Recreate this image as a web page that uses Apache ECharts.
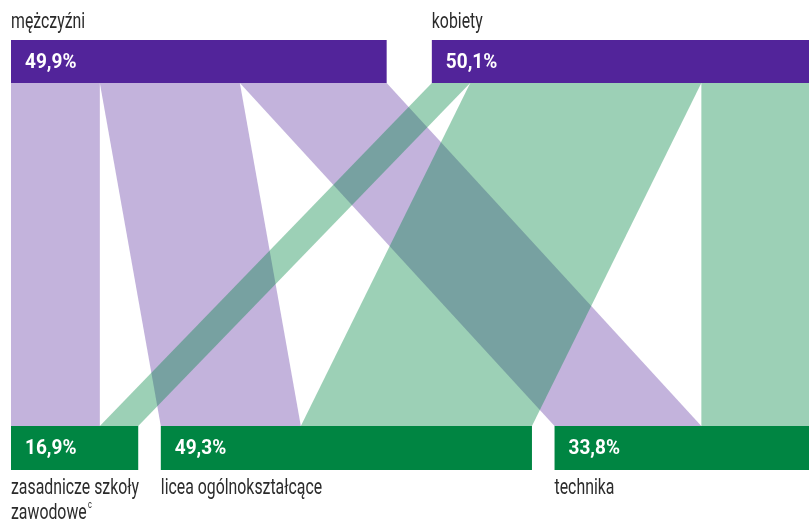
<!DOCTYPE html>
<html>
<head>
<meta charset="utf-8">
<script src="https://cdn.jsdelivr.net/npm/echarts@6/dist/echarts.min.js"></script>
<style>
  html, body { margin: 0; padding: 0; background: #fff; }
  #chart { width: 809px; height: 526px; }
</style>
</head>
<body>
<div id="chart"></div>
<script>
// structure of students: sex (top) -> school type (bottom), % of all students
var sexes = ['mężczyźni', 'kobiety'];
var sexShares = [49.9, 50.1];
var schools = ['zasadnicze szkoły\nzawodowe{sup|c}', 'licea ogólnokształcące', 'technika'];
var schoolShares = [16.9, 49.3, 33.8];
// flows [zasadnicze, licea, technika]
var menFlows = [11.8, 18.6, 19.5];
var womenFlows = [5.1, 30.7, 14.3];

var topGap = 6;
var bottomGap = 3;
var barH = 43;
var font = 'Roboto, sans-serif';
var narrow = 0.72; // condensed look of the original typeface
var sexColors = ['#52249a', '#52249a'];
var flowColors = ['rgba(82,36,154,0.35)', 'rgba(0,133,66,0.39)'];
var schoolColor = '#008542';
var textColor = '#2b2b2b';

function starts(shares, gap) {
  var s = [], acc = 0;
  shares.forEach(function (v, i) {
    s.push(acc + i * gap);
    acc += v;
  });
  return s;
}
var topStart = starts(sexShares, topGap);
var botStart = starts(schoolShares, bottomGap);

// link positions along the top and bottom bars
var flows = [menFlows, womenFlows];
var links = [];
var topOff = [0, 0];
var botOff = [0, 0, 0];
flows.forEach(function (row, s) {
  row.forEach(function (v, t) {
    links.push([s, t, v]);
  });
});
var linkPos = [];
// top: stacked by school inside each sex; bottom: stacked by sex inside each school
links.forEach(function (l) {
  linkPos.push({ top: topStart[l[0]] + topOff[l[0]] });
  topOff[l[0]] += l[2];
});
var byTarget = links.map(function (l, i) { return i; }).sort(function (a, b) {
  return links[a][1] - links[b][1] || links[a][0] - links[b][0];
});
byTarget.forEach(function (i) {
  var l = links[i];
  linkPos[i].bot = botStart[l[1]] + botOff[l[1]];
  botOff[l[1]] += l[2];
});

var nodes = [];
sexShares.forEach(function (v, i) { nodes.push([0, i, v]); });
schoolShares.forEach(function (v, i) { nodes.push([1, i, v]); });

function pct(v) {
  return v.toFixed(1).replace('.', ',') + '%';
}

var chart = echarts.init(document.getElementById('chart'));
chart.setOption({
  animation: false,
  grid: { left: 11, right: 0, top: 83, bottom: 100 },
  xAxis: { type: 'value', min: 0, max: 100 + 2 * bottomGap, show: false },
  yAxis: { type: 'value', min: 0, max: 1, inverse: true, show: false },
  series: [{
    type: 'custom',
    coordinateSystem: 'cartesian2d',
    silent: true,
    data: links,
    renderItem: function (params, api) {
      var i = params.dataIndex;
      var v = api.value(2);
      var p = linkPos[i];
      var pts = [
        api.coord([p.top, 0]),
        api.coord([p.top + v, 0]),
        api.coord([p.bot + v, 1]),
        api.coord([p.bot, 1])
      ];
      return {
        type: 'polygon',
        shape: { points: pts },
        style: { fill: flowColors[api.value(0)] }
      };
    }
  }, {
    type: 'custom',
    coordinateSystem: 'cartesian2d',
    silent: true,
    data: nodes,
    renderItem: function (params, api) {
      var level = api.value(0);
      var idx = api.value(1);
      var v = api.value(2);
      var x0 = level === 0 ? topStart[idx] : botStart[idx];
      var a = api.coord([x0, level]);
      var b = api.coord([x0 + v, level]);
      var y = level === 0 ? a[1] - barH : a[1];
      var name = level === 0 ? sexes[idx] : schools[idx];
      return {
        type: 'group',
        children: [{
          type: 'rect',
          shape: { x: a[0], y: y, width: b[0] - a[0], height: barH + level },
          style: { fill: level === 0 ? sexColors[idx] : schoolColor }
        }, {
          type: 'text',
          x: a[0] + 14,
          y: y + barH / 2 + 1,
          scaleX: 0.95,
          style: {
            text: pct(v),
            fill: '#fff',
            font: 'bold 20px ' + font,
            verticalAlign: 'middle'
          }
        }, {
          type: 'text',
          x: a[0],
          y: level === 0 ? 22 : y + barH + 7,
          scaleX: narrow,
          style: level === 0 ? {
            text: name,
            fill: textColor,
            font: '22px ' + font,
            verticalAlign: 'middle'
          } : {
            text: name,
            fill: textColor,
            font: '22px ' + font,
            lineHeight: 25,
            verticalAlign: 'top',
            rich: {
              sup: { fontSize: 10, fontFamily: 'Roboto', fill: textColor, padding: [0, 0, 16, 2] }
            }
          }
        }]
      };
    }
  }]
});
</script>
</body>
</html>
